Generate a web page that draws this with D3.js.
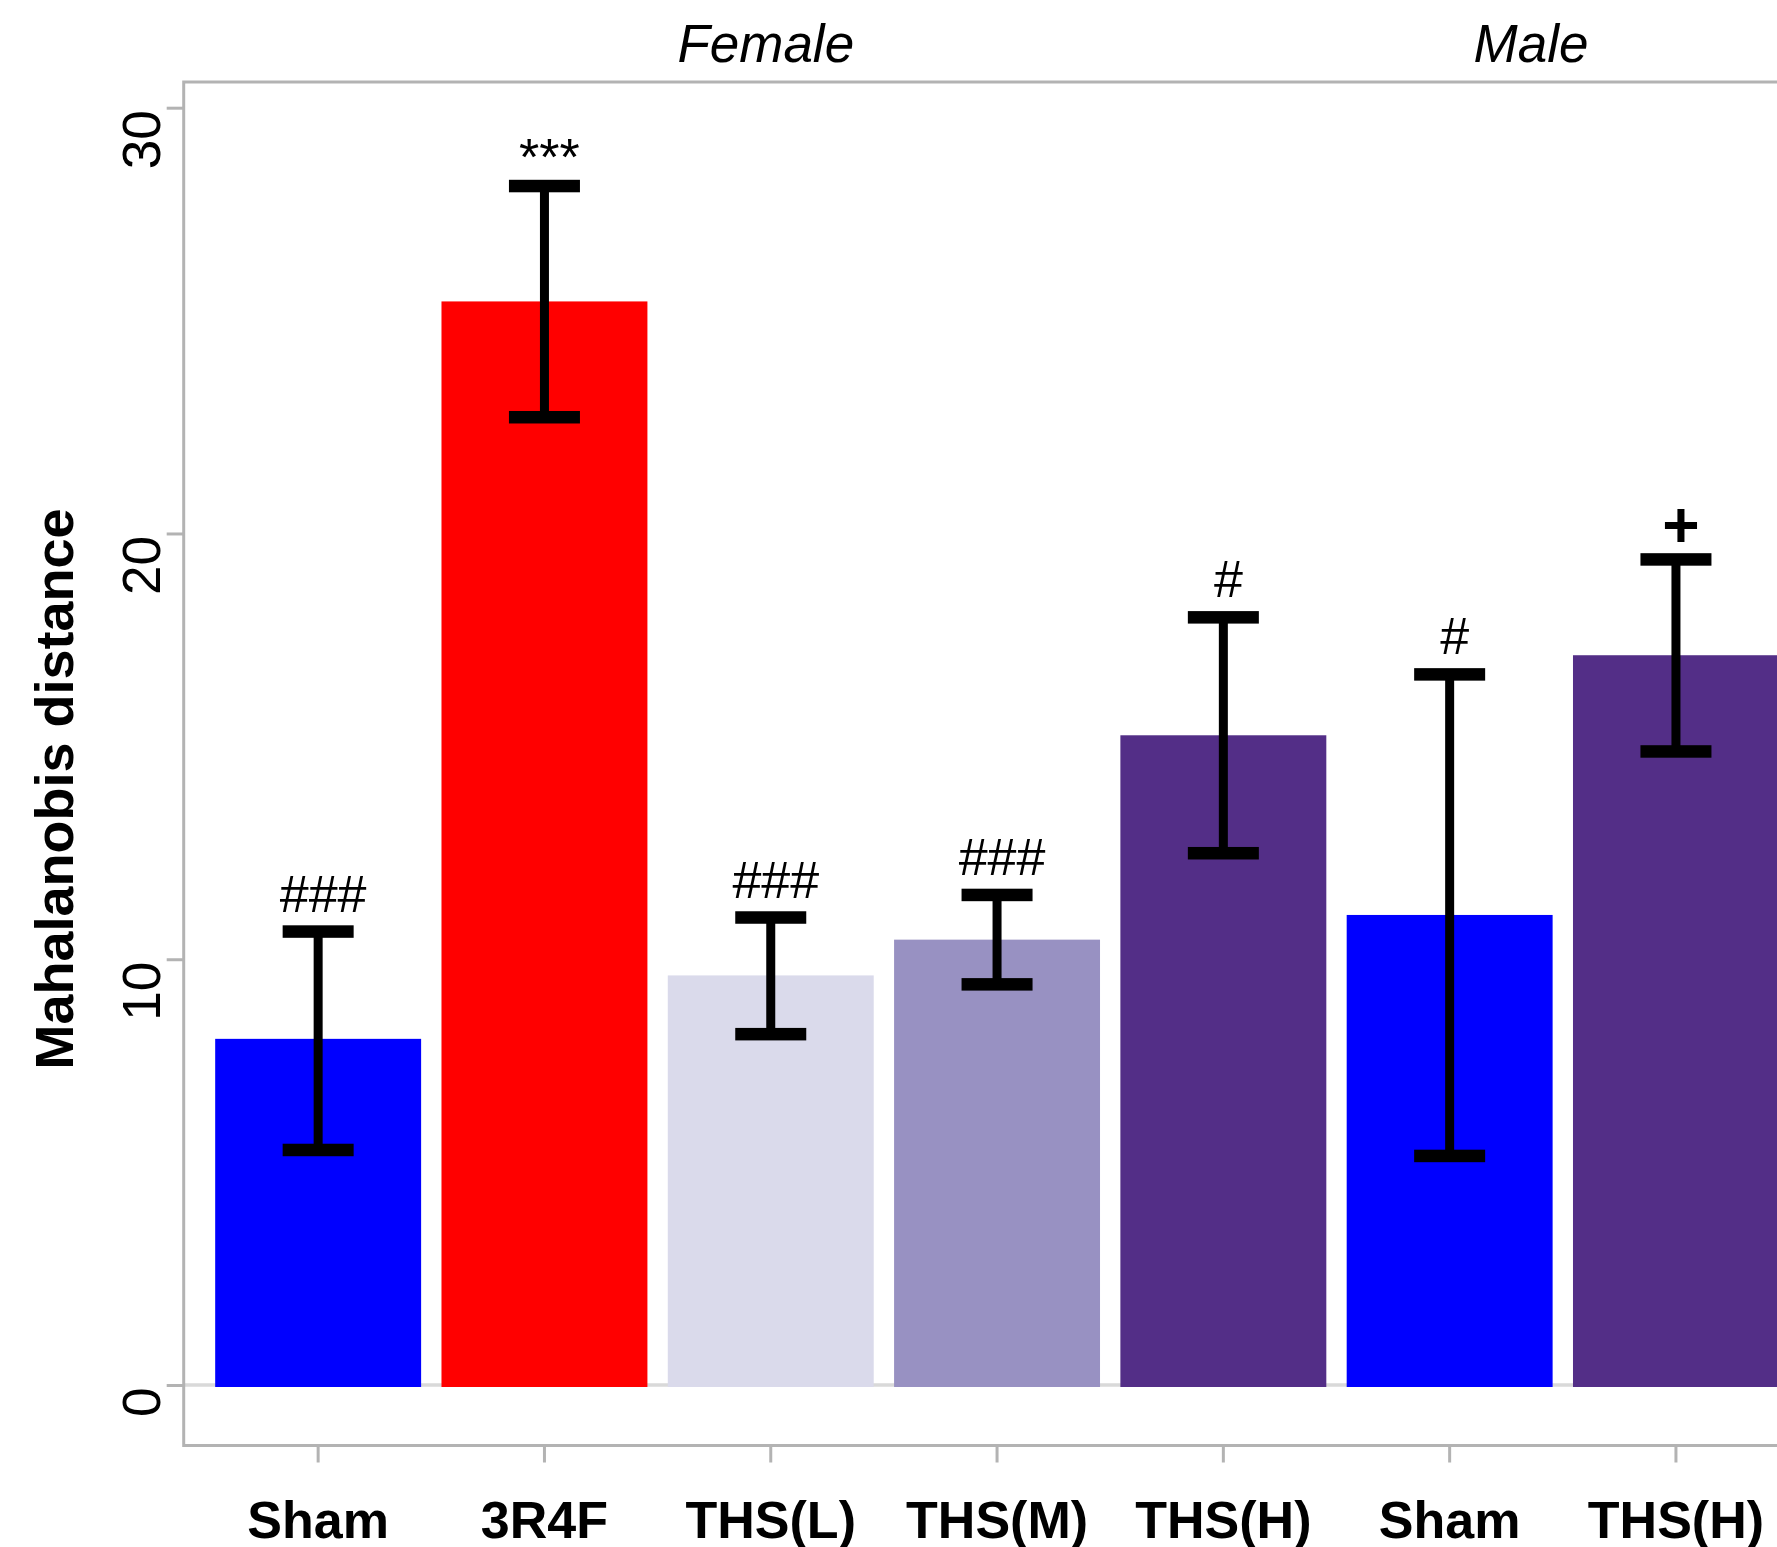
<!DOCTYPE html>
<html>
<head>
<meta charset="utf-8">
<script src="https://cdn.jsdelivr.net/npm/d3@7"></script>
<style>
  html, body { margin: 0; padding: 0; background: #fff; }
  svg { display: block; }
  text { font-family: "Liberation Sans", Arial, sans-serif; fill: #000; }
</style>
</head>
<body>
<svg id="chart" width="1777" height="1547"></svg>
<script>
// Group means of Mahalanobis distance with error bars
const categories = ["Sham", "3R4F", "THS(L)", "THS(M)", "THS(H)", "Sham", "THS(H)"];
const sexes      = ["Female", "Female", "Female", "Female", "Female", "Male", "Male"];
const means      = [8.13, 25.45, 9.62, 10.46, 15.26, 11.04, 17.14];
const errLow     = [5.52, 22.73, 8.24, 9.41, 12.49, 5.38, 14.88];
const errHigh    = [10.65, 28.16, 10.98, 11.51, 18.03, 16.69, 19.39];
const marks      = ["###", "***", "###", "###", "#", "#", "+"];
const yTicks     = [0, 10, 20, 30];
const panelTitles = ["Female", "Male"];

const barColors = ["#0000ff", "#ff0000", "#dadaeb", "#9891c2", "#532e87", "#0000ff", "#532e87"];

const W = 1777, H = 1547;
const frame = { left: 183.7, top: 82, bottom: 1445.5 };
const svg = d3.select("#chart");
svg.append("rect").attr("width", W).attr("height", H).attr("fill", "#fff");

const idx = d3.range(categories.length);
const x = d3.scaleBand().domain(idx).range([205, 205 + 7 * 226.3])
  .paddingInner(0.09).paddingOuter(0.045);
const y = d3.scaleLinear().domain([0, 30]).range([1385, 107.7]);

// zero reference line
svg.append("line")
  .attr("x1", frame.left).attr("x2", W + 10)
  .attr("y1", y(0)).attr("y2", y(0))
  .attr("stroke", "#d9d9d9").attr("stroke-width", 3.5);

// bars
svg.append("g").selectAll("rect").data(idx).join("rect")
  .attr("x", i => x(i))
  .attr("width", x.bandwidth())
  .attr("y", i => y(means[i]))
  .attr("height", i => y(0) - y(means[i]) + 2)
  .attr("fill", i => barColors[i]);

// error bars
const eb = svg.append("g").selectAll("g").data(idx).join("g")
  .attr("transform", i => `translate(${x(i) + x.bandwidth() / 2},0)`);
eb.append("line")
  .attr("y1", i => y(errLow[i])).attr("y2", i => y(errHigh[i]))
  .attr("stroke", "#000").attr("stroke-width", 9);
const capW = 71, capH = 12.5;
eb.append("rect").attr("x", -capW / 2).attr("width", capW).attr("height", capH)
  .attr("y", i => y(errHigh[i]) - capH / 2).attr("fill", "#000");
eb.append("rect").attr("x", -capW / 2).attr("width", capW).attr("height", capH)
  .attr("y", i => y(errLow[i]) - capH / 2).attr("fill", "#000");

// significance marks
eb.append("text")
  .attr("x", 5)
  .attr("y", i => {
    const m = marks[i];
    if (m[0] === "*") return y(errHigh[i]) - 11;
    if (m === "+") return y(errHigh[i]) - 12;
    return y(errHigh[i]) - 20;
  })
  .attr("text-anchor", "middle")
  .attr("font-size", i => marks[i] === "+" ? 64 : 52)
  .attr("font-weight", i => marks[i] === "+" ? "bold" : "normal")
  .text(i => marks[i]);

// frame
svg.append("rect")
  .attr("x", frame.left).attr("y", frame.top)
  .attr("width", 2000).attr("height", frame.bottom - frame.top)
  .attr("fill", "none").attr("stroke", "#b3b3b3").attr("stroke-width", 3);

// y axis
const gy = svg.append("g").attr("transform", `translate(${frame.left},0)`)
  .call(d3.axisLeft(y).tickValues(yTicks).tickSize(17).tickFormat(d3.format("d")));
gy.select(".domain").remove();
gy.selectAll(".tick line").attr("stroke", "#b3b3b3").attr("stroke-width", 3);
gy.selectAll(".tick text")
  .attr("x", null).attr("dy", null)
  .attr("transform", "translate(-23.7,2) rotate(-90)")
  .attr("text-anchor", "end")
  .attr("font-size", 53)
  .attr("font-family", "Liberation Sans, Arial, sans-serif")
  .attr("fill", "#000");

// x axis
const gx = svg.append("g").attr("transform", `translate(0,${frame.bottom})`)
  .call(d3.axisBottom(x).tickSize(17).tickFormat(i => categories[i]));
gx.select(".domain").remove();
gx.selectAll(".tick line").attr("stroke", "#b3b3b3").attr("stroke-width", 3);
gx.selectAll(".tick text")
  .attr("y", 92).attr("dy", null)
  .attr("font-size", 52).attr("font-weight", "bold")
  .attr("font-family", "Liberation Sans, Arial, sans-serif")
  .attr("fill", "#000");

// y axis title
svg.append("text")
  .attr("transform", "translate(73,789) rotate(-90)")
  .attr("text-anchor", "middle")
  .attr("font-size", 54).attr("font-weight", "bold")
  .text("Mahalanobis distance");

// panel titles
const femaleIdx = idx.filter(i => sexes[i] === "Female");
const femaleMid = (x(femaleIdx[0]) + x(femaleIdx[femaleIdx.length - 1]) + x.bandwidth()) / 2;
svg.append("text").attr("x", femaleMid - 5).attr("y", 62)
  .attr("text-anchor", "middle").attr("font-size", 53).attr("font-style", "italic")
  .text(panelTitles[0]);
svg.append("text").attr("x", 1531).attr("y", 62)
  .attr("text-anchor", "middle").attr("font-size", 53).attr("font-style", "italic")
  .text(panelTitles[1]);
</script>
</body>
</html>
